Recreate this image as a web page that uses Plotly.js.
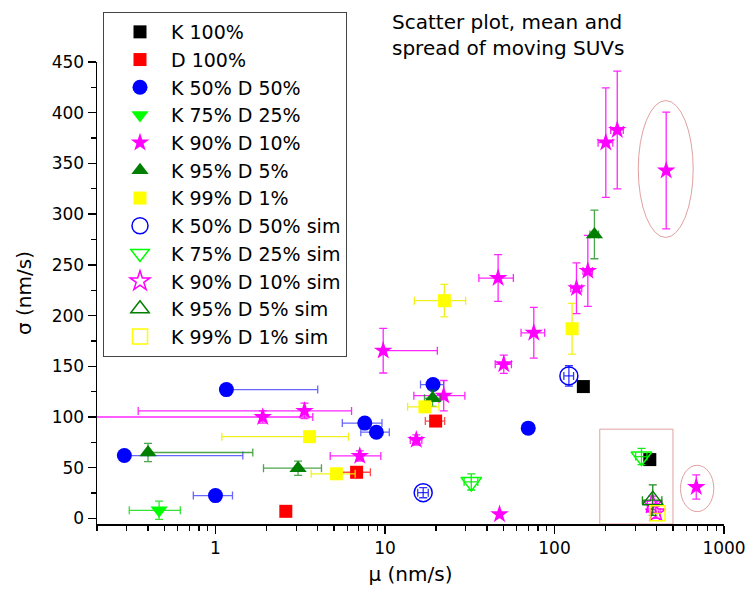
<!DOCTYPE html>
<html>
<head>
<meta charset="utf-8">
<script src="https://cdn.plot.ly/plotly-3.0.1.min.js"></script>
<style>html,body{margin:0;padding:0;background:#fff;}#chart{width:745px;height:603px;}</style>
</head>
<body>
<div id="chart"></div>
<script>
// ---- data (mu in nm/s, sigma in nm/s, error half-widths: plus / minus) ----
const k100_x = [148, 365];
const k100_y = [130, 58];
const k100_ex = [0, 12];
const k100_exm = [0, 12];
const k100_ey = [0, 0];

const d100_x = [2.6, 6.8, 19.9];
const d100_y = [7, 45.5, 96];
const d100_ex = [0, 1.4, 2.6];
const d100_exm = [0, 1.4, 2.6];
const d100_ey = [0, 0, 0];

const k50_x = [0.29, 1.0, 1.16, 7.6, 8.9, 19.2, 70];
const k50_y = [62, 22.5, 127, 94, 85, 132, 89];
const k50_ex = [1.16, 0.26, 2.85, 2.0, 1.7, 3.0, 0];
const k50_exm = [0, 0.26, 0, 2.0, 1.7, 3.0, 0];
const k50_ey = [0, 0, 0, 0, 0, 0, 0];

const k75_x = [0.465];
const k75_y = [8];
const k75_ex = [0.155];
const k75_exm = [0.155];
const k75_ey = [9];

const k90_x = [1.9, 3.35, 7.1, 15.3, 22.2, 47.4, 50.2, 75.5, 9.76, 46.5, 134.8, 157.3, 200.8, 234.5, 456, 686];
const k90_y = [100, 106, 61.6, 77.4, 121, 4, 152, 183, 165.4, 237, 227, 244, 370.5, 383, 343, 31];
const k90_ex = [1.85, 3.0, 2.35, 1.2, 7.4, 0, 5.5, 12, 10.6, 10.7, 10, 10, 20, 20, 0, 0];
const k90_exm = [1.85, 3.0, 2.35, 1.2, 7.4, 0, 5.5, 12, 0, 10.7, 10, 10, 20, 20, 0, 0];
const k90_ey = [6, 7.6, 5, 5, 15, 0, 9, 25, 22, 23, 25, 35, 54, 58, 57.5, 12];

const k95_x = [0.40, 3.07, 19.1, 172];
const k95_y = [65, 49.5, 118.5, 280];
const k95_ex = [1.26, 1.15, 2, 10];
const k95_exm = [0, 1.15, 2, 10];
const k95_ey = [9, 7, 8, 24];

const k99_x = [3.59, 5.17, 17.2, 22.4, 127];
const k99_y = [80.6, 44, 110, 214.7, 187];
const k99_ex = [2.5, 1.5, 3.6, 7.5, 0];
const k99_exm = [2.5, 1.5, 3.6, 7.5, 0];
const k99_ey = [0, 0, 0, 16, 25];

const k50s_x = [16.8, 121.6];
const k50s_y = [25.4, 140.5];
const k50s_ex = [1.2, 8];
const k50s_exm = [1.2, 8];
const k50s_ey = [5, 10];

const k75s_x = [32.3, 326];
const k75s_y = [36, 61];
const k75s_ex = [3, 25];
const k75s_exm = [3, 25];
const k75s_ey = [8, 8];

const k90s_x = [378, 395];
const k90s_y = [14, 6];
const k90s_ex = [25, 25];
const k90s_exm = [25, 25];
const k90s_ey = [8, 6];

const k95s_x = [380];
const k95s_y = [18];
const k95s_ex = [50];
const k95s_exm = [50];
const k95s_ey = [15];

const k99s_x = [405];
const k99s_y = [5];
const k99s_ex = [0];
const k99s_exm = [0];
const k99s_ey = [0];

const xTickVals = [1, 10, 100, 1000];
const xTickText = ['1', '10', '100', '1000'];

// ---- traces ----
function tr(name, x, y, ex, exm, ey, symbol, color, size, errColor, lineW) {
  return {
    type: 'scatter', mode: 'markers', name: name, x: x, y: y,
    marker: {symbol: symbol, color: color, size: size, line: {color: color, width: lineW || 0}},
    error_x: {type: 'data', symmetric: false, array: ex, arrayminus: exm, visible: true, color: errColor, thickness: 1.3, width: 4},
    error_y: {type: 'data', array: ey, visible: true, color: errColor, thickness: 1.3, width: 4},
    cliponaxis: true
  };
}
const data = [
  tr('K 100%', k100_x, k100_y, k100_ex, k100_exm, k100_ey, 'square', '#000000', 13, 'rgba(0,0,0,0.8)'),
  tr('D 100%', d100_x, d100_y, d100_ex, d100_exm, d100_ey, 'square', '#FF0000', 13, 'rgba(255,0,0,0.7)'),
  tr('K 50% D 50%', k50_x, k50_y, k50_ex, k50_exm, k50_ey, 'circle', '#0000FF', 15, 'rgba(0,0,255,0.6)'),
  tr('K 75% D 25%', k75_x, k75_y, k75_ex, k75_exm, k75_ey, 'triangle-down', '#00FF00', 15, 'rgba(0,220,0,0.8)'),
  tr('K 90% D 10%', k90_x, k90_y, k90_ex, k90_exm, k90_ey, 'star', '#FF00FF', 14, 'rgba(255,0,255,0.85)'),
  tr('K 95% D 5%', k95_x, k95_y, k95_ex, k95_exm, k95_ey, 'triangle-up', '#007F00', 15, 'rgba(0,128,0,0.7)'),
  tr('K 99% D 1%', k99_x, k99_y, k99_ex, k99_exm, k99_ey, 'square', '#FFFF00', 13, 'rgba(240,240,0,0.9)'),
  tr('K 50% D 50% sim', k50s_x, k50s_y, k50s_ex, k50s_exm, k50s_ey, 'circle-open', '#0000FF', 18, 'rgba(0,0,255,0.8)', 1.5),
  tr('K 75% D 25% sim', k75s_x, k75s_y, k75s_ex, k75s_exm, k75s_ey, 'triangle-down-open', '#00FF00', 18, 'rgba(0,230,0,0.9)', 1.5),
  tr('K 90% D 10% sim', k90s_x, k90s_y, k90s_ex, k90s_exm, k90s_ey, 'star-open', '#FF00FF', 15, 'rgba(255,0,255,0.9)', 1.5),
  tr('K 95% D 5% sim', k95s_x, k95s_y, k95s_ex, k95s_exm, k95s_ey, 'triangle-up-open', '#007F00', 18, 'rgba(0,128,0,0.9)', 1.5),
  tr('K 99% D 1% sim', k99s_x, k99s_y, k99s_ex, k99s_exm, k99s_ey, 'square-open', '#FFFF00', 15, 'rgba(240,240,0,0.9)', 1.5)
];

const FONT = 'DejaVu Sans, Liberation Sans, Arial, sans-serif';
const hl = 'rgb(225,160,160)';
const layout = {
  width: 745, height: 603,
  margin: {l: 97, r: 21, t: 62, b: 79, autoexpand: false},
  paper_bgcolor: '#fff', plot_bgcolor: '#fff',
  font: {family: FONT, size: 17, color: '#000'},
  showlegend: true,
  title: {text: 'Scatter plot, mean and<br>spread of moving SUVs', x: 392 / 745, xanchor: 'left', xref: 'container',
          y: 1 - 29 / 603, yanchor: 'top', yref: 'container', font: {family: FONT, size: 20, color: '#000'}},
  xaxis: {
    type: 'log', range: [Math.log10(0.2), 3],
    tickvals: xTickVals, ticktext: xTickText, ticklabeloverflow: 'allow',
    showline: true, linecolor: '#000', linewidth: 1.5, mirror: false,
    ticks: 'outside', ticklen: 8, tickwidth: 1.5, tickcolor: '#000',
    minor: {ticks: 'outside', ticklen: 5, tickwidth: 1.2, tickcolor: '#000', dtick: 'D1', showgrid: false},
    showgrid: false, zeroline: false,
    tickfont: {family: FONT, size: 17, color: '#000'},
    title: {text: 'μ (nm/s)', font: {family: FONT, size: 20, color: '#000'}, standoff: 10}
  },
  yaxis: {
    range: [-5.5, 450], dtick: 50, tick0: 0,
    showline: true, linecolor: '#000', linewidth: 1.5, mirror: false,
    ticks: 'outside', ticklen: 8, tickwidth: 1.5, tickcolor: '#000',
    minor: {ticks: 'outside', ticklen: 5, tickwidth: 1.2, tickcolor: '#000', dtick: 25, showgrid: false},
    showgrid: false, zeroline: false,
    tickfont: {family: FONT, size: 17, color: '#000'},
    title: {text: 'σ (nm/s)', font: {family: FONT, size: 20, color: '#000'}, standoff: 14}
  },
  legend: {
    x: (103 - 97) / 627, xanchor: 'left', xref: 'paper',
    y: 1 - 12 / 603, yanchor: 'top', yref: 'container',
    maxheight: 590,
    bgcolor: '#fff', bordercolor: '#444', borderwidth: 1,
    font: {family: FONT, size: 19, color: '#000'},
    itemsizing: 'trace', indentation: 5, itemwidth: 52
  },
  shapes: [
    {type: 'rect', xref: 'x', yref: 'y', x0: 185, x1: 500, y0: -5.5, y1: 88, line: {color: hl, width: 1}},
    {type: 'circle', xref: 'x', yref: 'y', x0: 312, x1: 658, y0: 277, y1: 412, line: {color: hl, width: 1}},
    {type: 'circle', xref: 'x', yref: 'y', x0: 554, x1: 871, y0: 6.7, y1: 52.4, line: {color: hl, width: 1}}
  ]
};

Plotly.newPlot('chart', data, layout, {displayModeBar: false, staticPlot: true});
</script>
</body>
</html>
